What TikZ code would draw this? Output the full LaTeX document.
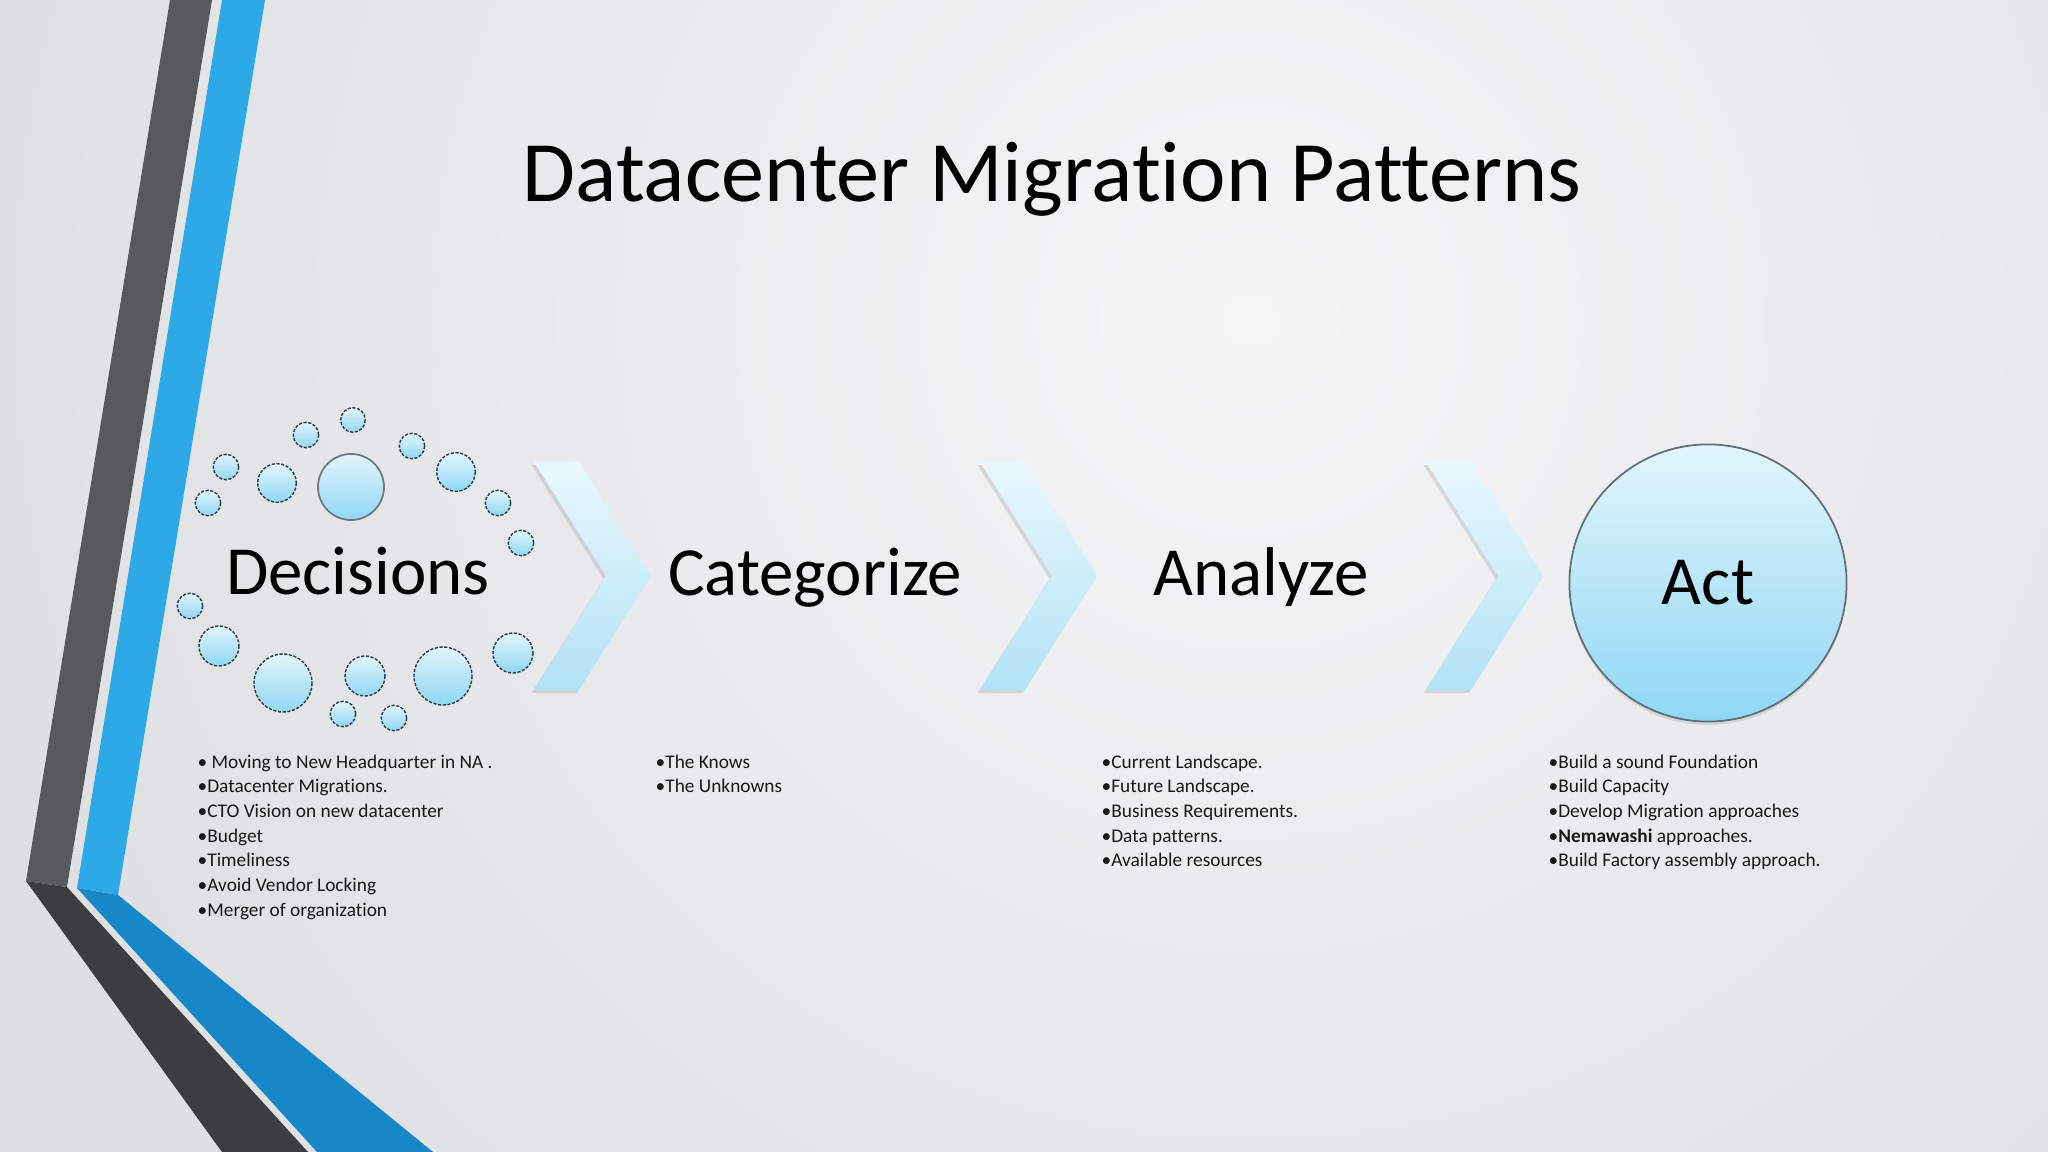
\documentclass[tikz,border=0pt]{standalone}
\usepackage{fontspec}
\setmainfont{Carlito}[Ligatures={NoCommon,NoContextual}]
\usetikzlibrary{shadows}
\definecolor{bglight}{HTML}{F5F5F6}
\definecolor{bgdark}{HTML}{C3C5C9}
\definecolor{stripedark}{HTML}{58595B}
\definecolor{stripedeep}{HTML}{3C3D40}
\definecolor{stripeblue}{HTML}{2EA9E7}
\definecolor{stripedeepblue}{HTML}{1887C8}
\definecolor{bubtop}{HTML}{E2F5FC}
\definecolor{bubbot}{HTML}{90D7F4}
\definecolor{bubline}{HTML}{2C3E48}
\definecolor{chevtop}{HTML}{E9F7FD}
\definecolor{chevbot}{HTML}{B3E3F7}
\tikzset{
  bubble/.style={top color=bubtop,bottom color=bubbot,draw=bubline,line width=0.4pt,dash pattern=on 0.9pt off 0.45pt},
  chevron/.style={top color=chevtop,bottom color=chevbot,drop shadow={shadow xshift=-0.7pt,shadow yshift=-0.9pt,opacity=0.22}},
  head/.style={font=\fontsize{19.6}{23}\selectfont,text=black,inner sep=0,anchor=base},
  item/.style={font=\fontsize{5.5}{7}\selectfont,text=black!90,inner sep=0,anchor=base west},
}
\begin{document}
\begin{tikzpicture}[x=0.01cm,y=-0.01cm]
\useasboundingbox (0,0) rectangle (2048,1152);
% background
\fill[bgdark] (0,0) rectangle (2048,1152);
\begin{scope}
\clip (0,0) rectangle (2048,1152);
\shade[inner color=bglight,outer color=bgdark] (1250,320) circle (2900);
\end{scope}
% bands on the left
\fill[stripedark] (170,0)--(212,0)--(67,887)--(26,881)--cycle;
\fill[stripedeep] (26,881)--(67,887)--(308,1152)--(222,1152)--cycle;
\fill[stripeblue] (222,0)--(265,0)--(118,895)--(77,888)--cycle;
\fill[stripedeepblue] (77,888)--(118,895)--(433,1152)--(317,1152)--cycle;
% title
\node[font=\fontsize{24.5}{29}\selectfont,inner sep=0,anchor=base] (title) at (1052,202) {Datacenter Migration Patterns};
% bubbles
\foreach \x/\y/\r in {353/420/12.3,306/435/12.7,412/446/12.7,226/467/12.7,277/483/19.3,456/472/19.3,
  208/503/12.7,498/503/12.7,521/543/12.7,190/606/12.7,219/646/20,283/683/29,365/676/20,
  443/676/29,513/653/20,343/714/12.7,394/718/12.7}
  \path[bubble] (\x,\y) circle (\r);
\path[top color=bubtop,bottom color=bubbot,draw=gray!85!cyan!70!black,line width=0.5pt] (351,487) circle (33);
% chevrons
\foreach \x in {534,980,1426}
  \path[chevron] (\x,462)--++(45,0)--++(72,114)--++(-72,114)--++(-45,0)--++(72,-114)--cycle;
% steps
\node[head] (decisions) at (358,594) {Decisions};
\node[head] (categorize) at (815,595) {Categorize};
\node[head] (analyze) at (1261,595) {Analyze};
\node[circle,minimum size=2.77cm,inner sep=0,top color=bubtop,bottom color=bubbot,draw=gray!70!cyan!60!black,line width=0.5pt,
  drop shadow={shadow xshift=0pt,shadow yshift=-1pt,opacity=0.2},font=\fontsize{19.6}{23}\selectfont] (act) at (1708,583) {Act};
% bullet lists
\foreach \txt [count=\i] in {• Moving to New Headquarter in NA ., •Datacenter Migrations., •CTO Vision on new datacenter,
  •Budget, •Timeliness, •Avoid Vendor Locking, •Merger of organization}
  \node[item] (decisions-\i) at (197,{768+24.7*(\i-1)}) {\txt};
\foreach \txt [count=\i] in {•The Knows, •The Unknowns}
  \node[item] (categorize-\i) at (655,{768+24.7*(\i-1)}) {\txt};
\foreach \txt [count=\i] in {•Current Landscape., •Future Landscape., •Business Requirements., •Data patterns., •Available resources}
  \node[item] (analyze-\i) at (1101,{768+24.7*(\i-1)}) {\txt};
\foreach \txt [count=\i] in {•Build a sound Foundation, •Build Capacity, •Develop Migration approaches,
  •\textbf{Nemawashi} approaches., •Build Factory assembly approach.}
  \node[item] (act-\i) at (1548,{768+24.7*(\i-1)}) {\txt};
\end{tikzpicture}
\end{document}
